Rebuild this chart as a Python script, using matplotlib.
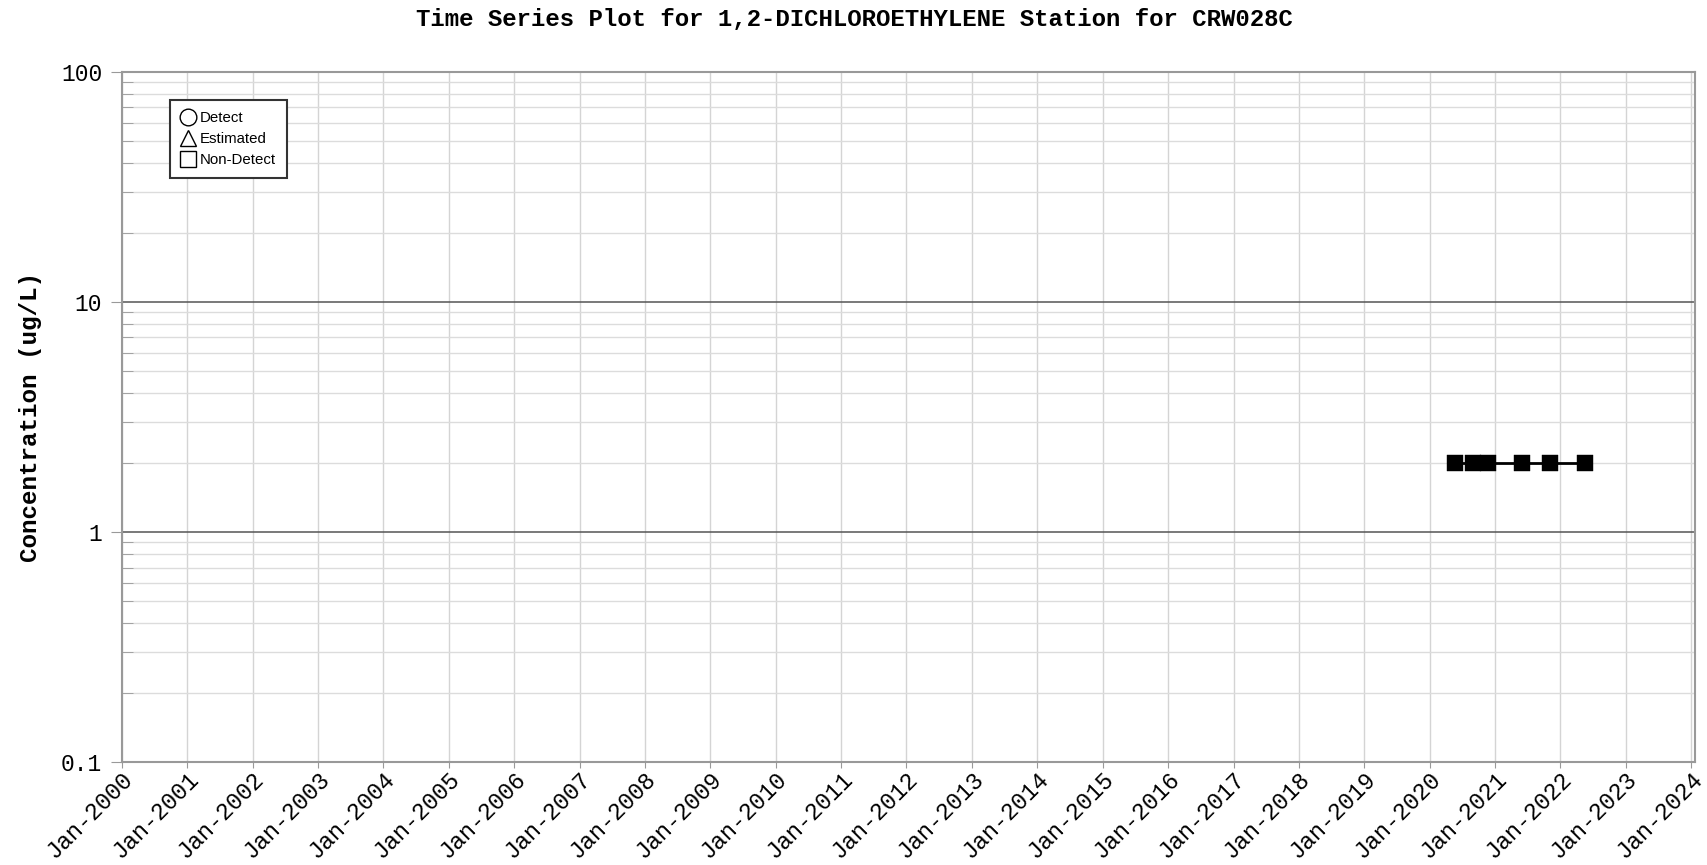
import matplotlib
matplotlib.use("Agg")
import matplotlib.pyplot as plt
from matplotlib.lines import Line2D
from matplotlib.ticker import LogLocator, NullFormatter
import datetime as dt

# ---- data ----
sample_dates = ["2020-05-22", "2020-09-02", "2020-11-20", "2021-05-30", "2021-11-06", "2022-05-19"]
concentration = [2, 2, 2, 2, 2, 2]
year_ticks = list(range(2000, 2025))
y_ticks = [0.1, 1, 10, 100]
y_tick_labels = ["0.1", "1", "10", "100"]
legend_labels = ["Detect", "Estimated", "Non-Detect"]
title = "Time Series Plot for 1,2-DICHLOROETHYLENE Station for CRW028C"
ylabel = "Concentration (ug/L)"

mono = "Liberation Mono"

fig = plt.figure(figsize=(17.08, 8.65), dpi=100)
ax = fig.add_axes([0.0713, 0.1191, 0.9924 - 0.0713, 0.9171 - 0.1191])

x = [dt.datetime.strptime(d, "%Y-%m-%d") for d in sample_dates]
ax.plot(x, concentration, color="black", lw=2, marker="s", markersize=11,
        markerfacecolor="black", markeredgecolor="black", markeredgewidth=0.3, zorder=5)

ax.set_yscale("log")
ax.set_ylim(0.1, 100)
ax.set_xlim(dt.datetime(2000, 1, 1), dt.datetime(2024, 1, 23))

# x ticks
xt = [dt.datetime(y, 1, 1) for y in year_ticks]
ax.set_xticks(xt)
ax.set_xticklabels([d.strftime("Jan-%Y") for d in xt], rotation=45, ha="right",
                   rotation_mode="anchor", fontfamily=mono, fontsize=16.8)

ax.set_yticks(y_ticks)
ax.set_yticklabels(y_tick_labels, fontfamily=mono, fontsize=16.5)
ax.yaxis.set_minor_locator(LogLocator(base=10, subs=range(2, 10)))
ax.yaxis.set_minor_formatter(NullFormatter())

# grids
ax.grid(True, which="major", axis="x", color="#d4d4d4", lw=1)
ax.grid(True, which="minor", axis="y", color="#dcdcdc", lw=1)
ax.axhline(1, color="#555555", lw=1.1, zorder=2)
ax.axhline(10, color="#555555", lw=1.1, zorder=2)

for s in ax.spines.values():
    s.set_color("#999999")
    s.set_linewidth(1.5)

ax.tick_params(axis="x", which="major", direction="out", length=4, color="#999999", pad=0)
ax.tick_params(axis="y", which="major", direction="out", length=8, color="#999999", pad=6)
ax.tick_params(axis="y", which="minor", direction="in", length=8, color="#999999")

fig.text(0.5, 0.978, title, ha="center", va="center", fontfamily=mono,
         fontweight="bold", fontsize=17.3)
ax.set_ylabel(ylabel, fontfamily=mono, fontweight="bold", fontsize=17.5, labelpad=14)

# legend
handles = [
    Line2D([], [], ls="none", marker="o", markersize=12, markerfacecolor="white",
           markeredgecolor="black", markeredgewidth=1),
    Line2D([], [], ls="none", marker="^", markersize=12, markerfacecolor="white",
           markeredgecolor="black", markeredgewidth=1),
    Line2D([], [], ls="none", marker="s", markersize=12, markerfacecolor="white",
           markeredgecolor="black", markeredgewidth=1),
]
leg = ax.legend(handles, legend_labels, loc="upper left",
                bbox_to_anchor=((170 - 121.7) / (1695 - 121.7), 1 - (100 - 71.7) / (762 - 71.7)),
                prop={"family": "Liberation Sans", "size": 10.8},
                frameon=True, fancybox=False, handlelength=0.9, handletextpad=0.3,
                labelspacing=0.45, borderpad=0.75, borderaxespad=0)
leg.get_frame().set_edgecolor("#333333")
leg.get_frame().set_linewidth(1.5)
leg.get_frame().set_facecolor("white")
leg.get_frame().set_alpha(1)

fig.savefig("out.png", dpi=100)
